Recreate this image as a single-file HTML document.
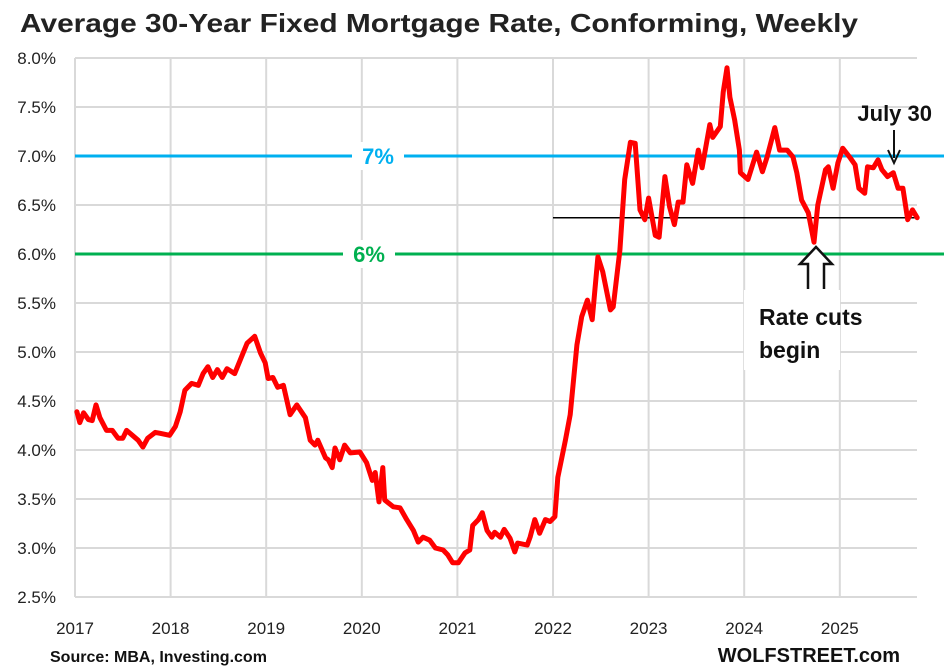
<!DOCTYPE html>
<html><head><meta charset="utf-8"><style>
body{margin:0;background:#fff;width:944px;height:669px;overflow:hidden}
svg{display:block;font-family:"Liberation Sans",sans-serif}
</style></head><body>
<svg id="chart" width="944" height="669">
<text x="20" y="32" font-size="26" font-weight="bold" fill="#222" textLength="838" lengthAdjust="spacingAndGlyphs">Average 30-Year Fixed Mortgage Rate, Conforming, Weekly</text>
<g id="grid"></g><g id="labels"></g><g id="series"></g>
<g id="annot"></g>
<text x="50" y="662" font-size="16" font-weight="bold" fill="#111">Source: MBA, Investing.com</text>
<text x="900" y="662" font-size="20" font-weight="bold" fill="#111" text-anchor="end">WOLFSTREET.com</text>
</svg>
<script>
const yTicks=[2.5,3.0,3.5,4.0,4.5,5.0,5.5,6.0,6.5,7.0,7.5,8.0];
const xYears=[2017,2018,2019,2020,2021,2022,2023,2024,2025];
const dates=[2017.02,2017.05,2017.09,2017.14,2017.18,2017.22,2017.26,2017.33,2017.39,2017.45,2017.50,2017.54,2017.60,2017.66,2017.71,2017.76,2017.84,2017.89,2017.99,2018.05,2018.10,2018.15,2018.22,2018.29,2018.34,2018.39,2018.44,2018.49,2018.54,2018.59,2018.67,2018.75,2018.80,2018.88,2018.94,2018.99,2019.02,2019.07,2019.12,2019.18,2019.25,2019.32,2019.41,2019.46,2019.51,2019.54,2019.62,2019.65,2019.69,2019.72,2019.77,2019.82,2019.88,2019.98,2020.05,2020.11,2020.14,2020.18,2020.22,2020.24,2020.33,2020.40,2020.47,2020.54,2020.59,2020.64,2020.71,2020.77,2020.85,2020.90,2020.95,2021.01,2021.08,2021.13,2021.16,2021.22,2021.26,2021.31,2021.36,2021.39,2021.45,2021.49,2021.55,2021.60,2021.63,2021.73,2021.76,2021.81,2021.86,2021.92,2021.97,2022.02,2022.05,2022.13,2022.18,2022.25,2022.30,2022.36,2022.41,2022.47,2022.52,2022.60,2022.63,2022.70,2022.75,2022.81,2022.86,2022.91,2022.96,2023.00,2023.07,2023.11,2023.17,2023.22,2023.27,2023.31,2023.36,2023.40,2023.46,2023.52,2023.56,2023.64,2023.67,2023.75,2023.78,2023.82,2023.85,2023.90,2023.95,2023.96,2024.04,2024.13,2024.19,2024.24,2024.32,2024.37,2024.45,2024.51,2024.55,2024.60,2024.67,2024.73,2024.77,2024.85,2024.88,2024.93,2024.98,2025.03,2025.11,2025.16,2025.20,2025.26,2025.29,2025.35,2025.40,2025.44,2025.50,2025.56,2025.61,2025.66,2025.71,2025.76,2025.81];
const rates=[4.39,4.28,4.38,4.31,4.30,4.46,4.33,4.20,4.20,4.12,4.12,4.20,4.15,4.10,4.03,4.12,4.18,4.17,4.15,4.24,4.39,4.61,4.68,4.66,4.78,4.85,4.74,4.82,4.74,4.83,4.78,4.97,5.09,5.16,4.99,4.89,4.73,4.74,4.64,4.66,4.36,4.46,4.33,4.10,4.05,4.10,3.92,3.90,3.82,4.02,3.90,4.05,3.97,3.98,3.87,3.69,3.77,3.47,3.82,3.49,3.42,3.41,3.29,3.18,3.06,3.11,3.08,3.00,2.98,2.93,2.85,2.85,2.95,2.98,3.23,3.29,3.36,3.18,3.11,3.16,3.11,3.19,3.10,2.96,3.05,3.03,3.11,3.29,3.15,3.29,3.27,3.32,3.72,4.10,4.36,5.07,5.36,5.53,5.33,5.97,5.82,5.43,5.46,6.04,6.76,7.14,7.13,6.45,6.35,6.57,6.19,6.17,6.79,6.48,6.30,6.53,6.53,6.91,6.72,7.06,6.88,7.32,7.19,7.30,7.65,7.90,7.60,7.37,7.06,6.83,6.76,7.04,6.84,6.99,7.29,7.06,7.06,6.99,6.83,6.55,6.42,6.12,6.50,6.86,6.89,6.67,6.93,7.08,6.98,6.91,6.67,6.62,6.89,6.88,6.96,6.86,6.79,6.83,6.67,6.67,6.35,6.45,6.37];
const refRate=6.37;
const X=y=>75+(y-2017)*95.6;
const Y=r=>58+(8-r)*98;
const NS="http://www.w3.org/2000/svg";
function mk(p,t,a){const e=document.createElementNS(NS,t);for(const k in a)e.setAttribute(k,a[k]);p.appendChild(e);return e;}
const grid=document.getElementById('grid'),labels=document.getElementById('labels'),series=document.getElementById('series'),annot=document.getElementById('annot');
yTicks.forEach(t=>{
 const l=mk(grid,'line',{x1:75,x2:917,y1:Y(t),y2:Y(t),stroke:'#d9d9d9','stroke-width':2});
 
 
 const tx=mk(labels,'text',{x:56,y:Y(t)+6,'font-size':17,'text-anchor':'end',fill:'#222'});
 tx.textContent=t.toFixed(1)+'%';
 
 
});
xYears.forEach(yr=>{
 const l=mk(grid,'line',{x1:X(yr),x2:X(yr),y1:58,y2:597,stroke:'#d9d9d9','stroke-width':2});
 
 
 const tx=mk(labels,'text',{x:X(yr),y:634,'font-size':17,'text-anchor':'middle',fill:'#222'});
 tx.textContent=yr;
 
 
});
const l7=mk(series,'line',{x1:75,x2:944,y1:Y(7),y2:Y(7),stroke:'#00b0f0','stroke-width':3});


const l6=mk(series,'line',{x1:75,x2:944,y1:Y(6),y2:Y(6),stroke:'#00b050','stroke-width':3});


const refl=mk(series,'line',{x1:553,x2:917,y1:Y(refRate),y2:Y(refRate),stroke:'#000','stroke-width':1.5});


const d=dates.map((t,i)=>(i?'L':'M')+X(t).toFixed(1)+','+Y(rates[i]).toFixed(1)).join('');
const path=mk(series,'path',{d:d,fill:'none',stroke:'#ff0000','stroke-width':5,'stroke-linejoin':'round','stroke-linecap':'round'});


function lbl(x,y,txt,col,name){const r=mk(annot,'rect',{x:x-26,y:y-14,width:52,height:28,fill:'#fff'});
 
 
 const t=mk(annot,'text',{x:x,y:y+8,'font-size':22,'font-weight':'bold','text-anchor':'middle',fill:col});t.textContent=txt;
 
 }
lbl(378,Y(7),'7%','#00b0f0','seven-percent-label');
lbl(369,Y(6),'6%','#00b050','six-percent-label');
const jt=mk(annot,'text',{x:932,y:121,'font-size':22,'font-weight':'bold','text-anchor':'end',fill:'#111'});jt.textContent='July 30';


const ja=mk(annot,'path',{d:'M894,130L894,158M888,150L894,163L900,150',stroke:'#111','stroke-width':2,fill:'none'});


const rb=mk(annot,'rect',{x:744,y:290,width:96,height:80,fill:'#fff'});


const t1=mk(annot,'text',{x:759,y:325,'font-size':23,'font-weight':'bold',fill:'#111'});t1.textContent='Rate cuts';


const t2=mk(annot,'text',{x:759,y:358,'font-size':23,'font-weight':'bold',fill:'#111'});t2.textContent='begin';


const ha=mk(annot,'path',{d:'M808,289L808,264L800,264L816,247L832,264L824,264L824,289',stroke:'#111','stroke-width':2.5,fill:'#fff'});


</script>
</body></html>
